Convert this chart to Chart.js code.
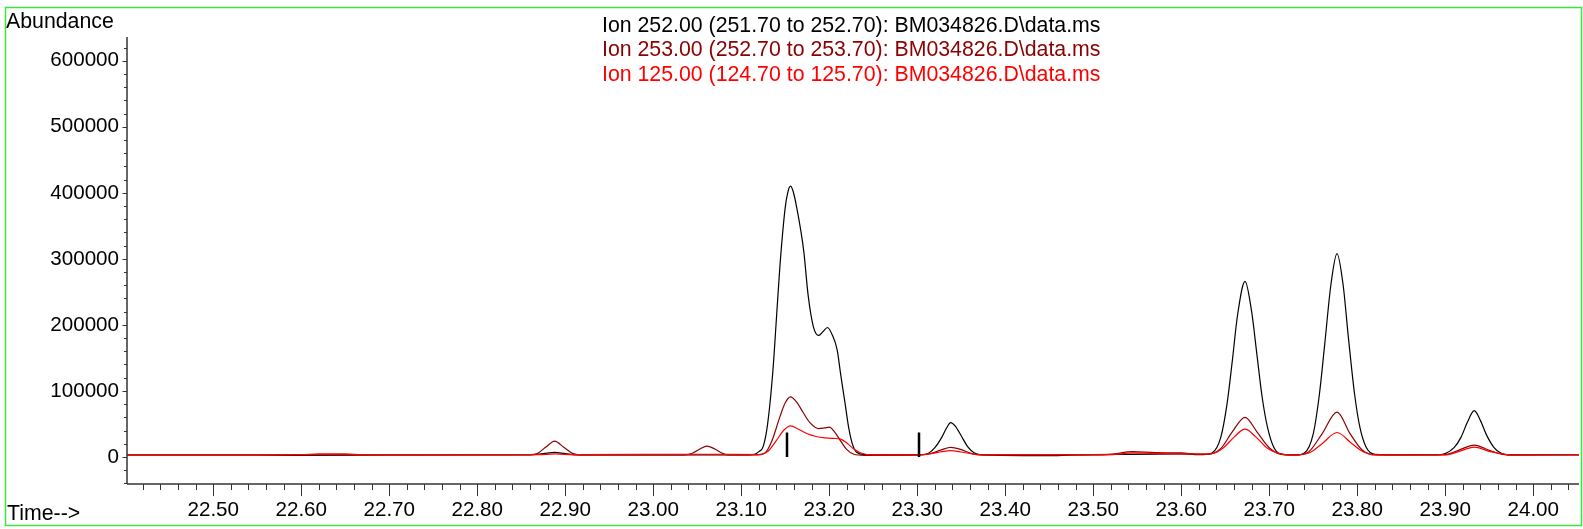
<!DOCTYPE html>
<html>
<head>
<meta charset="utf-8">
<script src="https://cdn.jsdelivr.net/npm/chart.js@4/dist/chart.umd.min.js"></script>
<style>
  html, body { margin: 0; padding: 0; background: #fff; }
  canvas { display: block; }
</style>
</head>
<body>
<canvas id="tic" width="1583" height="529"></canvas>
<script>
// retention time (min) / abundance
const times252 = [22.402, 22.55, 22.60, 22.70, 22.80, 22.86, 22.875, 22.888, 22.90, 22.915, 23.00, 23.10, 23.115, 23.12, 23.125, 23.13, 23.136, 23.14, 23.144, 23.15, 23.153, 23.156, 23.159, 23.163, 23.171, 23.176, 23.182, 23.188, 23.193, 23.198, 23.203, 23.209, 23.213, 23.218, 23.222, 23.226, 23.231, 23.24, 23.30, 23.31, 23.32, 23.328, 23.333, 23.338, 23.343, 23.35, 23.357, 23.365, 23.375, 23.42, 23.46, 23.48, 23.54, 23.60, 23.625, 23.635, 23.645, 23.652, 23.658, 23.664, 23.6725, 23.68, 23.686, 23.692, 23.698, 23.705, 23.714, 23.73, 23.74, 23.75, 23.757, 23.763, 23.77, 23.777, 23.784, 23.79, 23.797, 23.803, 23.81, 23.82, 23.85, 23.89, 23.90, 23.91, 23.918, 23.925, 23.933, 23.94, 23.947, 23.955, 23.963, 23.975, 24.052];
const abund252 = [3000, 3000, 2500, 3000, 3000, 3000, 5000, 7000, 5000, 3000, 3000, 3000, 4000, 8000, 16000, 50000, 131000, 210000, 290000, 378000, 401000, 410000, 402000, 378000, 312000, 245000, 197000, 184000, 190000, 196000, 186000, 162000, 125000, 81000, 45000, 21000, 7000, 3500, 3000, 4000, 14000, 30000, 43000, 52000, 47000, 32000, 16000, 6000, 3000, 2000, 2000, 3000, 4000, 4500, 3500, 6000, 30000, 80000, 145000, 215000, 266000, 220000, 155000, 90000, 45000, 15000, 4000, 3000, 6000, 35000, 95000, 170000, 260000, 308000, 260000, 180000, 95000, 45000, 15000, 4000, 3000, 3000, 5000, 14000, 30000, 52000, 70000, 55000, 33000, 15000, 6000, 3000, 3000];

const times253 = [22.402, 22.60, 22.70, 22.86, 22.868, 22.878, 22.888, 22.898, 22.909, 22.92, 23.035, 23.045, 23.053, 23.061, 23.07, 23.078, 23.085, 23.118, 23.127, 23.135, 23.144, 23.15, 23.156, 23.163, 23.17, 23.178, 23.188, 23.195, 23.20, 23.206, 23.213, 23.22, 23.228, 23.24, 23.30, 23.315, 23.328, 23.338, 23.35, 23.362, 23.375, 23.50, 23.52, 23.545, 23.57, 23.60, 23.62, 23.63, 23.645, 23.658, 23.6725, 23.686, 23.70, 23.714, 23.73, 23.745, 23.76, 23.777, 23.792, 23.806, 23.82, 23.90, 23.915, 23.933, 23.95, 23.965, 23.98, 24.052];
const abund253 = [3000, 3000, 3000, 3500, 5000, 15000, 24000, 15000, 5000, 3000, 3000, 6000, 12000, 16500, 12000, 6000, 3000, 3000, 6000, 25000, 61000, 82000, 91000, 83000, 68000, 52000, 43000, 44000, 45000, 38000, 24000, 11000, 4000, 2500, 3000, 5000, 11000, 14500, 11000, 5000, 3000, 3000, 4000, 8000, 6500, 6000, 4000, 4000, 13000, 38000, 60000, 38000, 14000, 4000, 3000, 8000, 35000, 68000, 35000, 10000, 3000, 3500, 10000, 18000, 10000, 4000, 3000, 3500];

const times125 = [22.402, 22.60, 22.62, 22.65, 22.67, 22.87, 22.888, 22.91, 23.06, 23.12, 23.13, 23.14, 23.148, 23.156, 23.165, 23.175, 23.185, 23.195, 23.205, 23.213, 23.22, 23.228, 23.236, 23.25, 23.30, 23.315, 23.328, 23.338, 23.35, 23.365, 23.38, 23.52, 23.545, 23.58, 23.61, 23.635, 23.648, 23.66, 23.6725, 23.685, 23.698, 23.712, 23.725, 23.745, 23.76, 23.777, 23.794, 23.808, 23.822, 23.90, 23.915, 23.933, 23.95, 23.968, 23.98, 24.052];
const abund125 = [3500, 3500, 4500, 4500, 3500, 3500, 4500, 3500, 4000, 3500, 8000, 25000, 40000, 47000, 42000, 35000, 31000, 29000, 28000, 27000, 21000, 12000, 6000, 3000, 3000, 5000, 8000, 9500, 7500, 4000, 3000, 3500, 6000, 5000, 4500, 5000, 14000, 30000, 42000, 30000, 13000, 5000, 3000, 6000, 20000, 37000, 20000, 7000, 3000, 3000, 8000, 15000, 8500, 4000, 3000, 3500];

// integration start/stop marks
const markTimes = [23.152, 23.302];
const markHeight = 37000;

// axis ticks
const xTicks = [22.5, 22.6, 22.7, 22.8, 22.9, 23.0, 23.1, 23.2, 23.3, 23.4, 23.5, 23.6, 23.7, 23.8, 23.9, 24.0];
const yTicks = [0, 100000, 200000, 300000, 400000, 500000, 600000];
const xMinorStep = 0.02;
const yMinorStep = 20000;

const ionLabels = [
    'Ion 252.00 (251.70 to 252.70): BM034826.D\\data.ms',
    'Ion 253.00 (252.70 to 253.70): BM034826.D\\data.ms',
    'Ion 125.00 (124.70 to 125.70): BM034826.D\\data.ms'
];
const ionColors = ['#000000', '#8b0000', '#ff0000'];

const FONT = '"Liberation Sans", Arial, sans-serif';

function pts(xs, ys){
    return xs.map((x, i) => ({x: x, y: ys[i]}))
}

const markPoints = []
markTimes.forEach(t => {
    markPoints.push({x: t, y: 0}, {x: t, y: markHeight}, {x: t, y: null})
})

function line(ctx, x1, y1, x2, y2){
    ctx.beginPath(); ctx.moveTo(x1, y1); ctx.lineTo(x2, y2); ctx.stroke()
}

const frame = {
    id: 'frame',
    afterDraw(chart){
        const ctx = chart.ctx, a = chart.chartArea
        const xs = chart.scales.x, ys = chart.scales.y
        ctx.save()
        // axes
        ctx.strokeStyle = '#333'
        ctx.lineWidth = 1.5
        line(ctx, a.left, a.top, a.left, a.bottom)
        line(ctx, a.left, a.bottom, a.right, a.bottom)
        ctx.lineWidth = 1
        // minor ticks, then the labelled ones longer
        for (let k = Math.ceil(xs.min / xMinorStep); k * xMinorStep <= xs.max; k++) {
            const px = Math.round(xs.getPixelForValue(k * xMinorStep)) + 0.5
            line(ctx, px, a.bottom, px, a.bottom + (k % 5 === 0 ? 12 : 6))
        }
        for (let k = Math.ceil(ys.min / yMinorStep); k * yMinorStep <= ys.max; k++) {
            const py = Math.round(ys.getPixelForValue(k * yMinorStep)) + 0.5
            line(ctx, a.left - (k % 5 === 0 ? 4.5 : 3), py, a.left, py)
        }
        // texts
        ctx.font = '21.3px ' + FONT
        ctx.fillStyle = '#000'
        ctx.textAlign = 'left'
        ctx.textBaseline = 'alphabetic'
        ctx.fillText('Abundance', 6, 28)
        ctx.fillText('Time-->', 7, 520)
        ctx.font = '21.3px ' + FONT
        ionLabels.forEach((s, i) => {
            ctx.fillStyle = ionColors[i]
            ctx.fillText(s, 602, 31.5 + i * 24.5)
        })
        // green border
        ctx.strokeStyle = 'rgb(60,230,60)'
        ctx.lineWidth = 1.5
        ctx.strokeRect(5.5, 7.5, 1576, 518)
        ctx.restore()
    }
}

const chart = new Chart(document.getElementById('tic'), {
    type: 'line',
    data: {
        datasets: [
            {label: ionLabels[0], data: pts(times252, abund252), borderColor: ionColors[0], order: 3},
            {label: ionLabels[1], data: pts(times253, abund253), borderColor: ionColors[1], order: 2},
            {label: ionLabels[2], data: pts(times125, abund125), borderColor: ionColors[2], order: 1},
            {label: 'marks', data: markPoints, borderColor: '#000', borderWidth: 2.5, tension: 0, cubicInterpolationMode: 'default', spanGaps: false, order: 0}
        ]
    },
    options: {
        responsive: false,
        animation: false,
        layout: {padding: {left: 0, right: 4, top: 37, bottom: 0}},
        plugins: {legend: {display: false}, tooltip: {enabled: false}},
        elements: {
            point: {radius: 0},
            line: {borderWidth: 1.2, cubicInterpolationMode: 'monotone', fill: false}
        },
        scales: {
            x: {
                type: 'linear',
                min: 22.402,
                max: 24.052,
                grid: {display: false, drawTicks: false, tickLength: 0},
                border: {display: false},
                afterBuildTicks: s => { s.ticks = xTicks.map(v => ({value: v})) },
                ticks: {
                    autoSkip: false,
                    maxRotation: 0,
                    padding: 14,
                    color: '#000',
                    font: {size: 20.6, family: FONT},
                    callback: v => v.toFixed(2)
                },
                afterFit: s => { s.height = 45 }
            },
            y: {
                type: 'linear',
                min: -41000,
                max: 636000,
                grid: {display: false, drawTicks: false, tickLength: 0},
                border: {display: false},
                afterBuildTicks: s => { s.ticks = yTicks.map(v => ({value: v})) },
                ticks: {
                    autoSkip: false,
                    padding: 8,
                    color: '#000',
                    font: {size: 20.6, family: FONT},
                    callback: v => String(v)
                },
                afterFit: s => { s.width = 127 }
            }
        }
    },
    plugins: [frame]
});
</script>
</body>
</html>
